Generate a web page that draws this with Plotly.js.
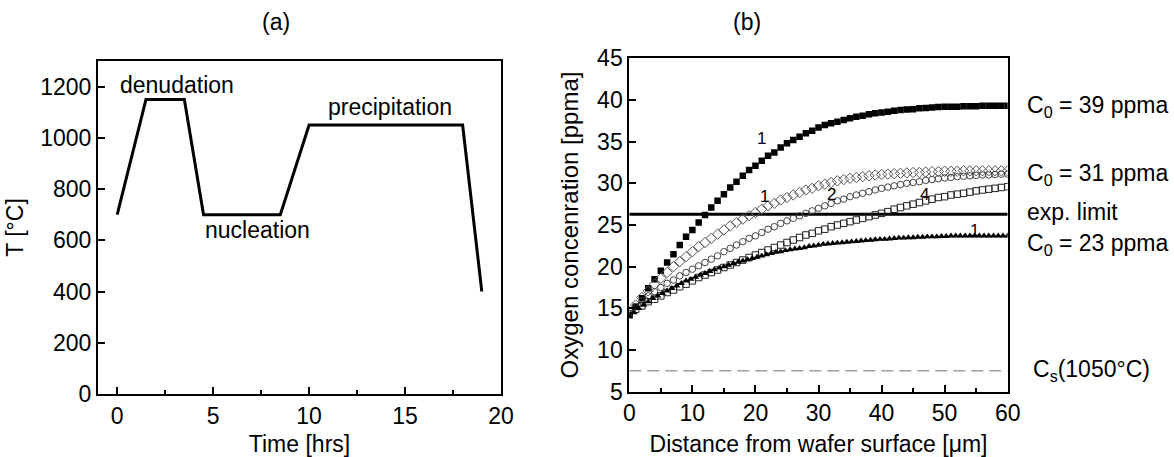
<!DOCTYPE html>
<html>
<head>
<meta charset="utf-8">
<script src="https://cdn.plot.ly/plotly-3.0.1.min.js"></script>
<style>html,body{margin:0;padding:0;background:#fff;}#chart{width:1174px;height:457px;}</style>
</head>
<body>
<div id="chart"></div>
<script>
// ---- Panel (a): temperature profile ----
const timeHrs = [0, 1.5, 3.5, 4.5, 8.5, 10, 18, 19];
const tempC   = [700, 1150, 1150, 700, 700, 1050, 1050, 400];
const stageLabels = ["denudation", "nucleation", "precipitation"];
const stageX = [3.1, 7.3, 14.2];
const stageY = [1205, 640, 1120];

// ---- Panel (b): oxygen profiles ----
const depth = [0,1,2,3,4,5,6,7,8,9,10,11,12,13,14,15,16,17,18,19,20,21,22,23,24,25,26,27,28,29,30,
  31,32,33,34,35,36,37,38,39,40,41,42,43,44,45,46,47,48,49,50,51,52,53,54,55,56,57,58,59,60];
const c39 = [14.2,15.2,16.2,17.4,18.5,19.5,20.5,21.5,22.6,23.6,24.4,25.3,26.2,27.1,27.9,28.7,29.5,30.2,30.9,31.6,32.1,
  32.7,33.3,33.7,34.3,34.8,35.2,35.6,36.0,36.3,36.7,37.0,37.2,37.4,37.6,37.8,38.0,38.1,38.3,38.4,38.5,
  38.6,38.7,38.8,38.85,38.9,39.0,39.05,39.1,39.15,39.2,39.2,39.2,39.25,39.25,39.25,39.3,39.3,39.3,39.3,39.3];
const c31d = [14.6,15.4,16.3,17.1,17.9,18.6,19.3,20.0,20.6,21.2,21.8,22.4,22.9,23.4,23.9,24.4,24.9,25.3,25.7,26.1,26.5,
  26.9,27.3,27.6,28.0,28.3,28.6,28.9,29.2,29.4,29.7,29.9,30.1,30.3,30.45,30.6,30.7,30.8,30.9,31.0,31.05,
  31.1,31.15,31.2,31.25,31.3,31.3,31.35,31.4,31.4,31.45,31.45,31.45,31.5,31.5,31.5,31.5,31.5,31.5,31.5,31.5];
const c31c = [14.4,15.2,15.9,16.5,17.0,17.5,18.0,18.4,18.9,19.3,19.7,20.1,20.5,20.9,21.3,21.8,22.2,22.6,23.0,23.4,23.7,
  24.1,24.5,24.8,25.2,25.5,25.8,26.1,26.4,26.7,27.0,27.3,27.6,27.9,28.1,28.4,28.6,28.8,29.0,29.2,29.4,
  29.55,29.7,29.85,30.0,30.1,30.2,30.35,30.45,30.55,30.65,30.7,30.8,30.85,30.9,30.95,31.0,31.0,31.05,31.1,31.1];
const c31s = [14.3,14.9,15.3,15.8,16.1,16.5,16.9,17.2,17.6,17.9,18.3,18.7,19.0,19.3,19.6,19.9,20.2,20.5,20.8,21.1,21.4,
  21.7,22.0,22.3,22.6,22.9,23.2,23.5,23.8,24.0,24.3,24.5,24.8,25.0,25.2,25.4,25.6,25.8,26.0,26.2,26.4,
  26.6,26.9,27.1,27.3,27.5,27.7,27.9,28.1,28.3,28.4,28.6,28.7,28.8,28.95,29.1,29.2,29.3,29.4,29.5,29.6];
const depthTri = [0,0.75,1.5,2.25,3,3.75,4.5,5.25,6,6.75,7.5,8.25,9,9.75,10.5,11.25,12,12.75,13.5,14.25,15,15.75,16.5,17.25,
  18,18.75,19.5,20.25,21,21.75,22.5,23.25,24,24.75,25.5,26.25,27,27.75,28.5,29.25,30,30.75,31.5,32.25,33,33.75,
  34.5,35.25,36,36.75,37.5,38.25,39,39.75,40.5,41.25,42,42.75,43.5,44.25,45,45.75,46.5,47.25,48,48.75,49.5,50.25,
  51,51.75,52.5,53.25,54,54.75,55.5,56.25,57,57.75,58.5,59.25,60];
const c23 = [14.0,14.5,15.0,15.4,15.8,16.2,16.5,16.8,17.1,17.4,17.7,18.0,18.3,18.5,18.75,19.0,19.2,19.45,19.65,19.85,20.0,
  20.2,20.4,20.55,20.7,20.85,21.0,21.15,21.3,21.45,21.6,21.75,21.8,21.95,22.05,22.15,22.2,22.3,22.45,22.5,22.6,
  22.7,22.75,22.8,22.85,22.9,22.95,23.0,23.05,23.1,23.15,23.2,23.25,23.3,23.3,23.35,23.4,23.45,23.45,23.5,23.5,
  23.55,23.55,23.6,23.6,23.6,23.65,23.65,23.7,23.7,23.7,23.7,23.7,23.7,23.7,23.7,23.7,23.7,23.7,23.7,23.7];
const expLimit = 26.3;
const csLevel = 7.5;
const rangeX = [0, 60];
const curveLabels = ["1", "1", "2", "4", "1"];
const curveLabelX = [21.0, 21.5, 32.1, 46.8, 54.7];
const curveLabelY = [35.4, 28.4, 28.6, 28.7, 24.4];
const sideLabels = ["C<sub>0</sub> = 39 ppma", "C<sub>0</sub> = 31 ppma", "exp. limit", "C<sub>0</sub> = 23 ppma", "C<sub>s</sub>(1050°C)"];
const sideY = [39.2, 31.1, 26.6, 22.7, 7.6];
const sideX = [0.873, 0.873, 0.873, 0.873, 0.878];
const panelTitles = ["(a)", "(b)"];
const panelTitleX = [276/1174, 747/1174];

const FONT = "Liberation Sans, Arial, sans-serif";
const FS = 23;

const traces = [
  {x: timeHrs, y: tempC, xaxis: 'x', yaxis: 'y', mode: 'lines', line: {color: '#000', width: 3}},
  {x: rangeX, y: [csLevel, csLevel], xaxis: 'x2', yaxis: 'y2', mode: 'lines', line: {color: '#a0a0a0', width: 1.5, dash: '12px,6px'}},
  {x: rangeX, y: [expLimit, expLimit], xaxis: 'x2', yaxis: 'y2', mode: 'lines', line: {color: '#000', width: 3}},
  {x: depth, y: c39, xaxis: 'x2', yaxis: 'y2', mode: 'markers', marker: {symbol: 'square', size: 6.5, color: '#000'}},
  {x: depth, y: c31d, xaxis: 'x2', yaxis: 'y2', mode: 'markers', marker: {symbol: 'diamond-open', size: 8, color: '#555', line: {width: 1}}},
  {x: depth, y: c31c, xaxis: 'x2', yaxis: 'y2', mode: 'markers', marker: {symbol: 'circle-open', size: 6.5, color: '#444', line: {width: 1}}},
  {x: depth, y: c31s, xaxis: 'x2', yaxis: 'y2', mode: 'markers', marker: {symbol: 'square-open', size: 6.5, color: '#222', line: {width: 1}}},
  {x: depthTri, y: c23, xaxis: 'x2', yaxis: 'y2', mode: 'markers', marker: {symbol: 'triangle-up', size: 6.5, color: '#000'}}
];

const annotations = [];
panelTitles.forEach((t, i) => annotations.push({text: t, xref: 'paper', yref: 'paper', x: panelTitleX[i], y: 1 - 22/457,
  xanchor: 'center', yanchor: 'middle', showarrow: false, font: {size: FS, color: '#000'}}));
stageLabels.forEach((t, i) => annotations.push({text: t, xref: 'x', yref: 'y', x: stageX[i], y: stageY[i],
  xanchor: 'center', yanchor: 'middle', showarrow: false, font: {size: FS, color: '#000'}}));
curveLabels.forEach((t, i) => annotations.push({text: t, xref: 'x2', yref: 'y2', x: curveLabelX[i], y: curveLabelY[i],
  xanchor: 'center', yanchor: 'middle', showarrow: false, font: {size: 17, color: '#000'}}));
sideLabels.forEach((t, i) => annotations.push({text: t, xref: 'paper', yref: 'y2', x: sideX[i], y: sideY[i],
  xanchor: 'left', yanchor: 'middle', showarrow: false, font: {size: FS, color: '#000'}}));

const axBase = {
  showline: true, linecolor: '#000', linewidth: 2, mirror: true,
  ticks: 'inside', ticklen: 7, tickwidth: 2, tickcolor: '#000',
  showgrid: false, zeroline: false, tickfont: {size: FS, color: '#000'}
};

const layout = {
  width: 1174, height: 457,
  margin: {l: 0, r: 0, t: 0, b: 0},
  paper_bgcolor: '#fff', plot_bgcolor: '#fff',
  showlegend: false,
  font: {family: FONT, color: '#000', size: FS},
  xaxis: Object.assign({}, axBase, {domain: [98/1174, 501/1174], range: [-1, 20], tickvals: [0,5,10,15,20],
    minor: {tickvals: [2.5,7.5,12.5,17.5], ticks: 'inside', ticklen: 4, tickwidth: 2, tickcolor: '#000'},
    title: {text: 'Time [hrs]', font: {size: FS}, standoff: 13}, anchor: 'y'}),
  yaxis: Object.assign({}, axBase, {domain: [1 - 394/457, 1 - 61/457], range: [0, 1300], tickvals: [0,200,400,600,800,1000,1200],
    title: {text: 'T [°C]', font: {size: FS}, standoff: 10}, anchor: 'x'}),
  xaxis2: Object.assign({}, axBase, {domain: [629.3/1174, 1007.7/1174], range: [0, 60], tickvals: [0,10,20,30,40,50,60],
    minor: {tickvals: [5,15,25,35,45,55], ticks: 'inside', ticklen: 4, tickwidth: 2, tickcolor: '#000'},
    title: {text: 'Distance from wafer surface [μm]', font: {size: FS}, standoff: 13}, anchor: 'y2'}),
  yaxis2: Object.assign({}, axBase, {domain: [1 - 391.7/457, 1 - 58.3/457], range: [5, 45], tickvals: [5,10,15,20,25,30,35,40,45],
    title: {text: 'Oxygen concenration [ppma]', font: {size: 24}, standoff: 12}, anchor: 'x2'}),
  annotations: annotations
};

Plotly.newPlot('chart', traces, layout, {staticPlot: true, displayModeBar: false});
</script>
</body>
</html>
